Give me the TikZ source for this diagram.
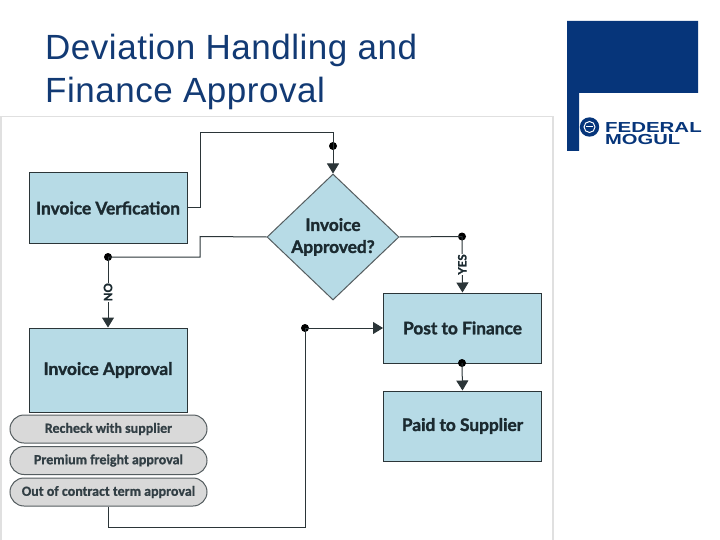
\documentclass[tikz,border=0pt]{standalone}
\usepackage{fontspec}
\usetikzlibrary{shapes.geometric,shapes.misc,arrows.meta}
\setmainfont{Liberation Sans}
\newfontfamily\titlefont[LetterSpace=1.5]{Liberation Sans}
\newfontfamily\boxfont[BoldFeatures={FakeBold=1.6}]{Lato}
\newfontfamily\pillfont[BoldFeatures={FakeBold=0.8}]{Carlito}
\definecolor{boxblue}{HTML}{B7DBE6}
\definecolor{logoblue}{HTML}{06357A}
\definecolor{linecol}{HTML}{2B3538}
\definecolor{pillgray}{HTML}{D9D9D9}
\definecolor{titlecol}{HTML}{123A74}
\definecolor{boxtext}{HTML}{1B2A30}
\tikzset{
  x=1pt,y=-1pt,
  flowbox/.style={draw=linecol,line width=1pt,fill=boxblue,rectangle,minimum width=158pt,inner sep=0pt,font=\boxfont\bfseries\fontsize{17.3}{20}\selectfont,text=boxtext},
  decision/.style={draw=linecol!80,line width=1pt,fill=boxblue,diamond,minimum width=132pt,minimum height=126pt,inner sep=0pt,align=center,font=\boxfont\bfseries\fontsize{17.3}{22}\selectfont,text=boxtext},
  pill/.style={draw=linecol!80,line width=1pt,fill=pillgray,rounded rectangle,minimum width=197pt,minimum height=28pt,inner sep=0pt,font=\pillfont\bfseries\fontsize{14}{16}\selectfont,text=boxtext!90},
  conn/.style={draw=linecol,line width=1pt},
  arr/.style={conn,-{Triangle[length=10pt,width=12pt]}},
  dot/.style={circle,fill=black,inner sep=0pt,minimum size=8pt},
  flowlabel/.style={fill=white,inner sep=0.5pt,rotate=90,font=\boxfont\bfseries\fontsize{11.5}{12}\selectfont,text=boxtext},
  titletext/.style={anchor=base west,inner sep=0pt,font=\titlefont\fontsize{35}{38}\selectfont,text=titlecol},
  logotext/.style={anchor=base west,inner sep=0pt,text=logoblue,font=\fontsize{14.5}{15}\selectfont\bfseries}
}
\begin{document}
\begin{tikzpicture}
\useasboundingbox (0,0) rectangle (720,540);
\fill[white] (0,0) rectangle (720,540);
% panel edge
\draw[black!12,line width=1.2pt] (1,540) -- (1,116.5) -- (553,116.5) -- (553,540);
% title
\node[titletext] (t1) at (45,60) {Deviation Handling and};
\node[titletext] (t2) at (45,103) {Finance Approval};
% logo
\fill[logoblue] (567,21) -- (698,21) -- (698,93) -- (579,93) -- (579,151) -- (567,151) -- cycle;
\fill[logoblue] (589.5,127) circle (9.7);
\draw[white,line width=1pt] (589.5,127) circle (5.5);
\draw[white,line width=1pt] (586,127) -- (593,127);
\node[logotext] (lg1) at (605,133) {\scalebox{1.41}[1]{FEDERAL}};
\node[logotext] (lg2) at (605,144.5) {\scalebox{1.39}[1]{MOGUL}};
% nodes
\node[flowbox,minimum height=70pt] (iv) at (108,208) {Invoice Verfication};
\node[decision] (ia) at (333,237) {Invoice\\Approved?};
\node[flowbox,minimum height=84pt] (ap) at (108,370) {Invoice Approval};
\node[flowbox,minimum height=70pt] (pf) at (462.5,328) {Post to Finance};
\node[flowbox,minimum height=70pt] (ps) at (462.5,426) {Paid to Supplier};
\node[pill] (p1) at (108.5,429) {Recheck with supplier};
\node[pill] (p2) at (108.5,460.5) {Premium freight approval};
\node[pill] (p3) at (108.5,492) {Out of contract term approval};
% junction dots
\node[dot] (d1) at (333,146) {};
\node[dot] (d2) at (108,257) {};
\node[dot] (d3) at (462,236.5) {};
\node[dot] (d4) at (305,328) {};
\node[dot] (d5) at (462,363) {};
% connectors
\draw[conn] (iv.east) -- (200,208) -- (200,133) -- (333,133) -- (d1.center);
\draw[arr] (d1.center) -- (ia.north);
\draw[conn] (ia.west) -- (200,236.5) -- (200,257) -- (d2.center);
\draw[arr] (d2.center) -- node[flowlabel] {NO} (ap.north);
\draw[conn] (ia.east) -- (d3.center);
\draw[arr] (d3.center) -- node[flowlabel] {YES} (pf.north);
\draw[conn] (p3.south) -- (108.5,527) -- (305,527) -- (d4.center);
\draw[arr] (d4.center) -- (pf.west);
\draw[arr] (d5.center) -- (ps.north);
\end{tikzpicture}
\end{document}
